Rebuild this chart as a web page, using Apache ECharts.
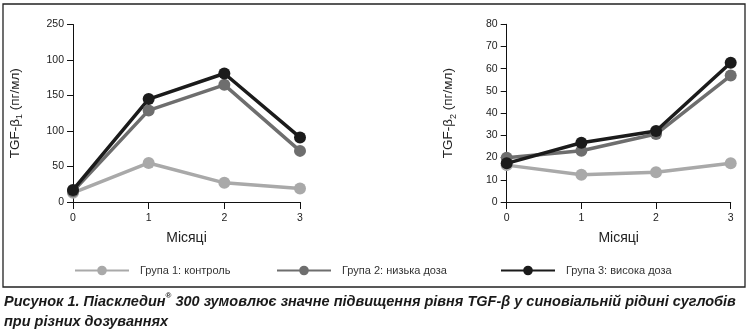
<!DOCTYPE html>
<html><head><meta charset="utf-8">
<script src="https://cdn.jsdelivr.net/npm/echarts@6/dist/echarts.min.js"></script>
<style>html,body{margin:0;padding:0;background:#fff}#c{width:748px;height:330px}</style>
</head><body><div id="c"></div>
<script>
var months = [0, 1, 2, 3];
var seriesNames = ['Група 1: контроль', 'Група 2: низька доза', 'Група 3: висока доза'];
var tgf1Group1 = [13, 55, 27, 19];
var tgf1Group2 = [15, 129, 165, 72];
var tgf1Group3 = [17, 145, 181, 91];
var tgf2Group1 = [16.6, 12.3, 13.4, 17.4];
var tgf2Group2 = [19.9, 23.1, 30.6, 56.9];
var tgf2Group3 = [17.4, 26.7, 32, 62.7];
var tgf1TickLabels = ['0', '50', '100', '150', '100', '250'];
var tgf2TickLabels = ['0', '10', '20', '30', '40', '50', '60', '70', '80'];
var xAxisName = 'Місяці';

var colors = ['#a9a9a9', '#6e6e6e', '#1b1b1b'];
var font = "'Liberation Sans', Arial, sans-serif";

function pairs(vals) { return months.map(function (m, i) { return [m, vals[i]]; }); }
function mkSeries(name, vals, idx, color) {
  return {
    name: name, type: 'line', xAxisIndex: idx, yAxisIndex: idx,
    data: pairs(vals), symbol: 'circle', symbolSize: 12,
    lineStyle: { width: 3.5, color: color }, itemStyle: { color: color },
    emphasis: { disabled: true }, animation: false
  };
}
function xAx(idx) {
  return {
    type: 'value', gridIndex: idx, min: 0, max: 3, interval: 1,
    name: xAxisName, nameLocation: 'middle', nameGap: 29,
    nameTextStyle: { fontFamily: font, fontSize: 14, color: '#222' },
    axisLine: { show: true, lineStyle: { color: '#111', width: 1 } },
    axisTick: { show: true, length: 7, lineStyle: { color: '#111' } },
    axisLabel: { fontFamily: font, fontSize: 10.5, color: '#222', margin: 11 },
    splitLine: { show: false }
  };
}
function yAx(idx, max, interval, labels, sub) {
  return {
    type: 'value', gridIndex: idx, min: 0, max: max, interval: interval,
    name: '{a|TGF-β}{s|' + sub + '}{a| (пг/мл)}', nameLocation: 'middle', nameGap: 49, nameRotate: 90,
    nameTextStyle: {
      rich: {
        a: { fontFamily: font, fontSize: 13.5, color: '#222', lineHeight: 18 },
        s: { fontFamily: font, fontSize: 9, color: '#222', lineHeight: 18, verticalAlign: 'bottom', padding: [4, 0, 0, 0] }
      }
    },
    axisLine: { show: true, lineStyle: { color: '#111', width: 1 } },
    axisTick: { show: true, length: 6, lineStyle: { color: '#111' } },
    axisLabel: {
      fontFamily: font, fontSize: 10.5, color: '#222', margin: 9,
      formatter: function (v) { return labels[Math.round(v / interval)]; }
    },
    splitLine: { show: false }
  };
}
function legendFor(i, left) {
  return {
    left: left, top: 265, padding: 0, data: [seriesNames[i]], itemWidth: 54, itemHeight: 12, itemGap: 0,
    selectedMode: false,
    textStyle: { fontFamily: font, fontSize: 11, color: '#333', padding: [0, 0, 0, 6] }
  };
}

var chart = echarts.init(document.getElementById('c'), null, { renderer: 'canvas' });
chart.setOption({
  animation: false,
  backgroundColor: '#fff',
  grid: [
    { left: 73, top: 24.5, width: 227, height: 177.5 },
    { left: 506.7, top: 24.3, width: 224, height: 177.7 }
  ],
  xAxis: [xAx(0), xAx(1)],
  yAxis: [yAx(0, 250, 50, tgf1TickLabels, '1'), yAx(1, 80, 10, tgf2TickLabels, '2')],
  legend: [legendFor(0, 74), legendFor(1, 276), legendFor(2, 500)],
  series: [
    mkSeries(seriesNames[0], tgf1Group1, 0, colors[0]),
    mkSeries(seriesNames[1], tgf1Group2, 0, colors[1]),
    mkSeries(seriesNames[2], tgf1Group3, 0, colors[2]),
    mkSeries(seriesNames[0], tgf2Group1, 1, colors[0]),
    mkSeries(seriesNames[1], tgf2Group2, 1, colors[1]),
    mkSeries(seriesNames[2], tgf2Group3, 1, colors[2])
  ],
  graphic: [
    { type: 'rect', shape: { x: 3, y: 4, width: 742, height: 283 }, style: { fill: 'none', stroke: '#222', lineWidth: 1.3 }, silent: true, z: -1 },
    {
      type: 'text', left: 4, top: 292, silent: true,
      style: {
        text: '{b|Рисунок 1. Піаскледин}{sup|®}{b| 300 зумовлює значне підвищення рівня TGF-β у синовіальній рідині суглобів}\n{b|при різних дозуваннях}',
        rich: {
          b: { fontFamily: font, fontSize: 14.5, fontWeight: 'bold', fontStyle: 'italic', fill: '#1a1a1a', lineHeight: 20 },
          sup: { fontFamily: font, fontSize: 8, fontWeight: 'bold', fill: '#1a1a1a', lineHeight: 20, verticalAlign: 'top', padding: [0, 0, 6, 0] }
        }
      }
    }
  ]
});
</script></body></html>
